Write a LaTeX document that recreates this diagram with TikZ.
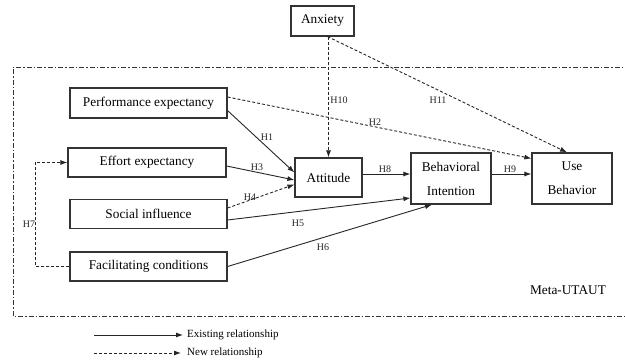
\documentclass[tikz,border=0pt]{standalone}
\usepackage{fontspec}
\setmainfont{Liberation Serif}
\usetikzlibrary{calc,arrows.meta}
\begin{document}
\begin{tikzpicture}[x=1pt,y=-1pt,
  box/.style={draw=black!80,line width=1.2pt,inner sep=0pt,align=center,font=\fontsize{13.3}{16}\selectfont},
  arr/.style={line width=0.9pt,draw=black!85,-{Latex[length=7pt,width=5pt]}},
  darr/.style={arr,dash pattern=on 3pt off 2pt},
  lab/.style={font=\fontsize{10}{12}\selectfont,inner sep=0pt,text=black!85},
  legtext/.style={font=\fontsize{11}{13}\selectfont,inner sep=0pt,anchor=west},
  frame/.style={line width=0.8pt,draw=black!80,dash pattern=on 5pt off 2pt on 1.5pt off 2pt}]
\useasboundingbox (0,0) rectangle (625,363);
\fill[white] (0,0) rectangle (625,363);

% frame
\draw[frame] (630,67) -- (13,67) -- (13,316) -- (630,316);
\node[font=\fontsize{13.3}{16}\selectfont,inner sep=0pt] (meta) at (568,290) {Meta-UTAUT};

% nodes
\node[box,minimum width=63pt,minimum height=30pt] (anx) at (322.5,21) {Anxiety};
\node[box,minimum width=157pt,minimum height=30pt] (pe) at (148.5,103) {Performance expectancy};
\node[box,minimum width=158pt,minimum height=29pt] (ee) at (147,162.5) {Effort expectancy};
\node[box,minimum width=157pt,minimum height=29pt] (si) at (148.5,214) {Social influence};
\node[box,minimum width=157pt,minimum height=29pt] (fc) at (148.5,266.5) {Facilitating conditions};
\node[box,minimum width=67pt,minimum height=39pt] (att) at (328.5,177.5) {Attitude};
\node[box,minimum width=80pt,minimum height=51pt,font=\fontsize{13.3}{24}\selectfont] (bi) at (451,178.5) {Behavioral\\Intention};
\node[box,minimum width=80pt,minimum height=51pt,font=\fontsize{13.3}{24}\selectfont] (ub) at (572,178.5) {Use\\Behavior};

% connectors
\draw[arr] ($(pe.south east)+(0,-8)$) -- ($(att.west)+(0,-5)$);
\draw[darr] ($(pe.east)+(0,-6)$) -- ($(ub.west)+(0,-20)$);
\draw[arr] ($(ee.east)+(0,3.5)$) -- ($(att.west)+(0,2.5)$);
\draw[darr] ($(si.east)+(0,-6)$) -- ($(att.west)+(0,7)$);
\draw[arr] ($(si.east)+(0,6)$) -- ($(bi.west)+(0,19.5)$);
\draw[arr] (fc.east) -- ($(bi.south)+(-19,0)$);
\draw[darr] (fc.west) -- ++(-34,0) |- (ee.west);
\draw[arr] ($(att.east)+(0,-3.5)$) coordinate (h8s) -- (h8s -| bi.west);
\draw[arr] ($(bi.east)+(0,-4.5)$) coordinate (h9s) -- (h9s -| ub.west);
\draw[darr] (att.north |- anx.south) -- (att.north);
\draw[darr] ($(anx.south)+(5,0)$) -- ($(ub.north)+(-5,0)$);

% labels
\node[lab] (l1) at (267,137) {H1};
\node[lab] (l2) at (375,122) {H2};
\node[lab] (l3) at (257,167) {H3};
\node[lab] (l4) at (250,197) {H4};
\node[lab] (l5) at (298,223) {H5};
\node[lab] (l6) at (323,247) {H6};
\node[lab] (l7) at (29,224) {H7};
\node[lab] (l8) at (385,169) {H8};
\node[lab] (l9) at (510,169) {H9};
\node[lab] (l10) at (339,100) {H10};
\node[lab] (l11) at (438,100) {H11};

% legend
\coordinate (e1) at (94,335);
\coordinate (e2) at (183,335);
\coordinate (n1) at (94,353);
\coordinate (n2) at (181,353);
\draw[arr] (e1) -- (e2);
\draw[darr] (n1) -- (n2);
\node[legtext] (le) at (187,335) {Existing relationship};
\node[legtext] (ln) at (187,353) {New relationship};
\end{tikzpicture}
\end{document}
